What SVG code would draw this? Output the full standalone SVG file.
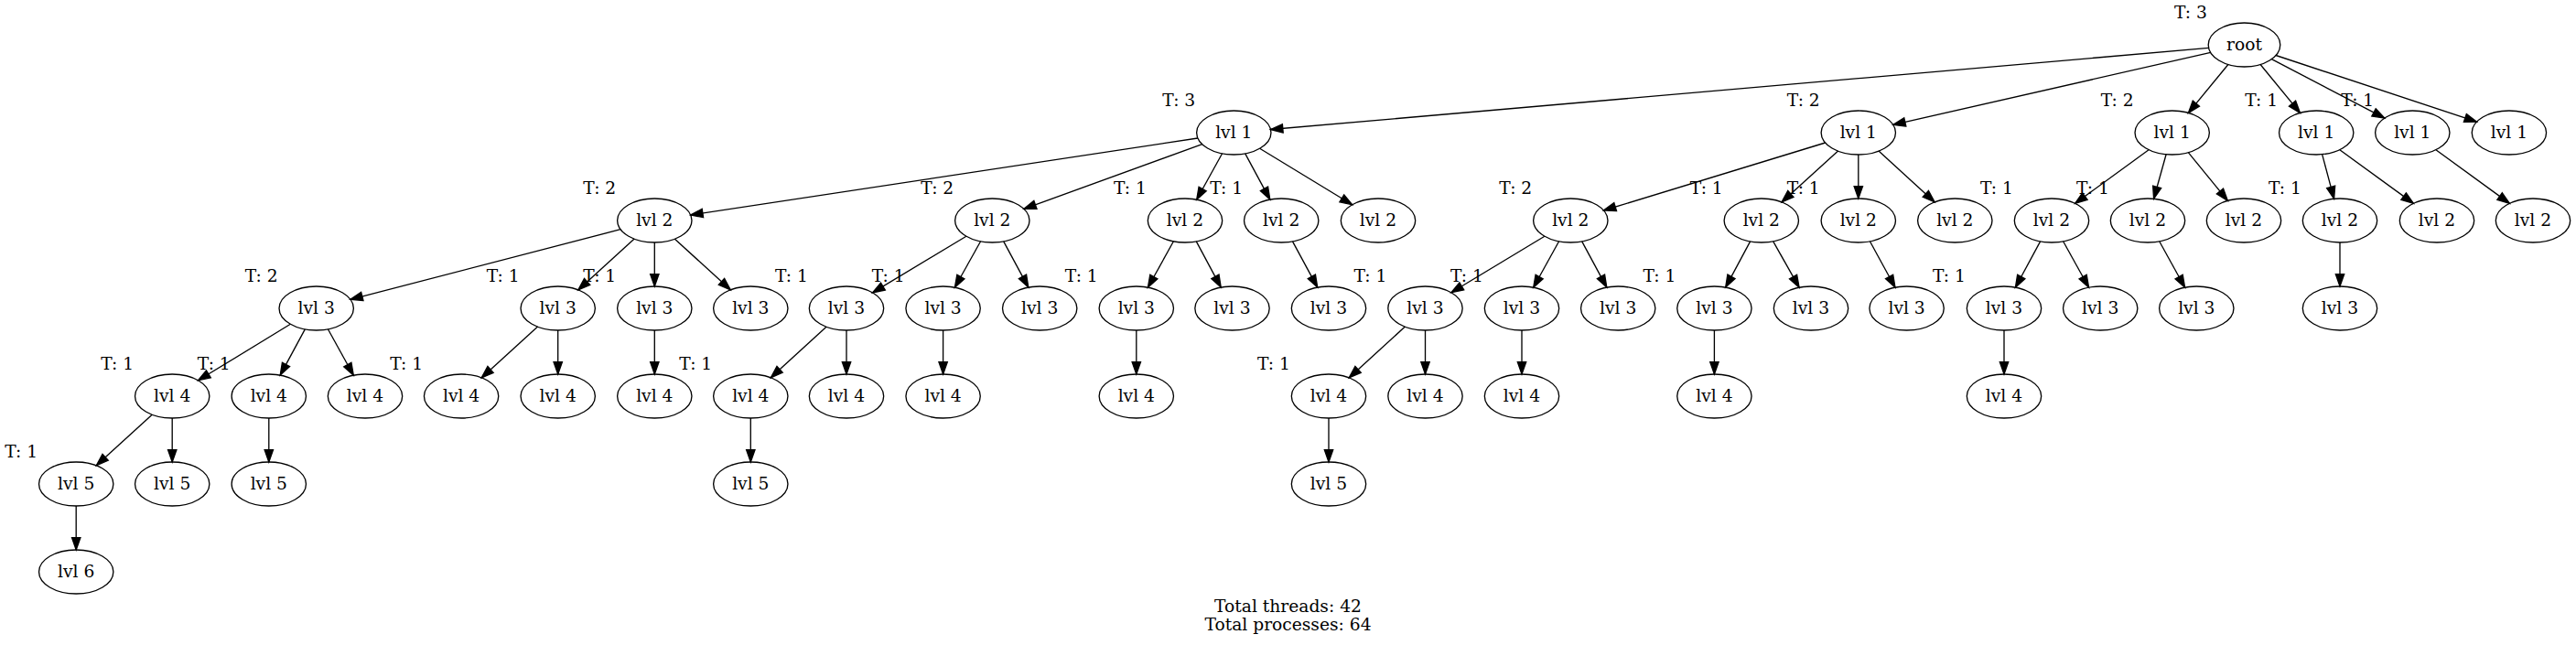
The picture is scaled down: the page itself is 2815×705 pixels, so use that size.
<svg xmlns="http://www.w3.org/2000/svg" width="2815" height="705" viewBox="0 0 2815 705">
<style>
text { font-family: "DejaVu Serif", "Liberation Serif", serif; font-size: 18.67px; fill: #000; text-anchor: middle; }
.node ellipse { fill: none; stroke: #000; stroke-width: 1.33; }
#edges line { stroke: #000; stroke-width: 1.33; fill: none; marker-end: url(#arr); }
</style>
<defs>
<marker id="arr" markerUnits="userSpaceOnUse" markerWidth="16" markerHeight="12" refX="13.33" refY="4.67" orient="auto" overflow="visible">
<path d="M0,0 L13.33,4.67 L0,9.33 Z" fill="#000" stroke="#000" stroke-width="1.33"/>
</marker>
</defs>
<rect x="0" y="0" width="2815" height="705" fill="#fff"/>
<g id="edges">
<line x1="2413.6" y1="52.4" x2="1388.5" y2="141.5"/>
<line x1="2415.7" y1="57.4" x2="2068.8" y2="136.4"/>
<line x1="2434.9" y1="70.5" x2="2391.4" y2="123.4"/>
<line x1="2470.1" y1="70.5" x2="2513.5" y2="123.4"/>
<line x1="2482.4" y1="64.6" x2="2605.8" y2="129.1"/>
<line x1="2487.0" y1="60.5" x2="2706.5" y2="133.2"/>
<line x1="1308.9" y1="151.0" x2="754.7" y2="235.0"/>
<line x1="1313.7" y1="157.6" x2="1118.9" y2="228.4"/>
<line x1="1335.6" y1="167.8" x2="1307.7" y2="218.2"/>
<line x1="1360.7" y1="167.9" x2="1387.8" y2="218.1"/>
<line x1="1376.6" y1="162.2" x2="1477.7" y2="223.8"/>
<line x1="1994.7" y1="156.0" x2="1752.4" y2="230.0"/>
<line x1="2008.6" y1="165.1" x2="1947.0" y2="220.9"/>
<line x1="2030.8" y1="169" x2="2030.8" y2="217"/>
<line x1="2053.0" y1="165.1" x2="2114.2" y2="220.9"/>
<line x1="2348.1" y1="163.7" x2="2267.6" y2="222.4"/>
<line x1="2367.1" y1="168.7" x2="2353.6" y2="217.3"/>
<line x1="2391.3" y1="166.6" x2="2434.4" y2="219.4"/>
<line x1="2537.6" y1="168.7" x2="2550.6" y2="217.3"/>
<line x1="2556.8" y1="163.7" x2="2637.4" y2="222.4"/>
<line x1="2661.9" y1="163.7" x2="2742.4" y2="222.4"/>
<line x1="678.1" y1="250.7" x2="382.9" y2="327.3"/>
<line x1="693.2" y1="261.1" x2="631.8" y2="316.9"/>
<line x1="715.3" y1="265" x2="715.3" y2="313"/>
<line x1="737.4" y1="261.2" x2="798.3" y2="316.8"/>
<line x1="1055.9" y1="258.2" x2="953.5" y2="319.9"/>
<line x1="1071.6" y1="263.8" x2="1043.4" y2="314.2"/>
<line x1="1096.7" y1="263.9" x2="1123.8" y2="314.1"/>
<line x1="1282.4" y1="263.8" x2="1254.4" y2="314.2"/>
<line x1="1307.3" y1="263.9" x2="1334.2" y2="314.1"/>
<line x1="1412.5" y1="263.9" x2="1439.7" y2="314.1"/>
<line x1="1687.9" y1="258.2" x2="1585.9" y2="319.8"/>
<line x1="1703.6" y1="263.8" x2="1675.7" y2="314.2"/>
<line x1="1728.7" y1="263.9" x2="1755.8" y2="314.1"/>
<line x1="1912.6" y1="263.9" x2="1885.7" y2="314.1"/>
<line x1="1937.7" y1="263.8" x2="1966.1" y2="314.2"/>
<line x1="2043.4" y1="263.8" x2="2071.0" y2="314.2"/>
<line x1="2229.6" y1="263.9" x2="2202.4" y2="314.2"/>
<line x1="2254.6" y1="263.8" x2="2282.6" y2="314.2"/>
<line x1="2359.7" y1="263.8" x2="2387.6" y2="314.2"/>
<line x1="2557" y1="265" x2="2557" y2="313"/>
<line x1="317.4" y1="354.2" x2="216.5" y2="415.8"/>
<line x1="333.3" y1="359.9" x2="306.2" y2="410.1"/>
<line x1="358.4" y1="359.8" x2="386.3" y2="410.2"/>
<line x1="587.6" y1="357.1" x2="526.2" y2="412.9"/>
<line x1="609.7" y1="361" x2="609.7" y2="409"/>
<line x1="715.3" y1="361" x2="715.3" y2="409"/>
<line x1="903.0" y1="357.2" x2="842.3" y2="412.8"/>
<line x1="925" y1="361" x2="925" y2="409"/>
<line x1="1030.6" y1="361" x2="1030.6" y2="409"/>
<line x1="1241.8" y1="361" x2="1241.8" y2="409"/>
<line x1="1535.4" y1="357.1" x2="1474.2" y2="412.9"/>
<line x1="1557.5" y1="361" x2="1557.5" y2="409"/>
<line x1="1663" y1="361" x2="1663" y2="409"/>
<line x1="1873.4" y1="361" x2="1873.4" y2="409"/>
<line x1="2190" y1="361" x2="2190" y2="409"/>
<line x1="166.2" y1="453.2" x2="105.3" y2="508.8"/>
<line x1="188.2" y1="457" x2="188.2" y2="505"/>
<line x1="293.8" y1="457" x2="293.8" y2="505"/>
<line x1="820.3" y1="457" x2="820.3" y2="505"/>
<line x1="1452" y1="457" x2="1452" y2="505"/>
<line x1="83.2" y1="553" x2="83.2" y2="601"/>
</g>
<g id="n_root" class="node"><ellipse cx="2452.5" cy="49" rx="39.3" ry="24"/><text x="2452.5" y="54.6">root</text><text x="2393.9" y="20.4">T: 3</text></g>
<g id="n_A" class="node"><ellipse cx="1348.3" cy="145" rx="40.67" ry="24"/><text x="1348.3" y="150.6">lvl 1</text><text x="1288.3" y="116.4">T: 3</text></g>
<g id="n_B" class="node"><ellipse cx="2030.8" cy="145" rx="40.67" ry="24"/><text x="2030.8" y="150.6">lvl 1</text><text x="1970.8" y="116.4">T: 2</text></g>
<g id="n_C" class="node"><ellipse cx="2373.7" cy="145" rx="40.67" ry="24"/><text x="2373.7" y="150.6">lvl 1</text><text x="2313.7" y="116.4">T: 2</text></g>
<g id="n_D" class="node"><ellipse cx="2531.2" cy="145" rx="40.67" ry="24"/><text x="2531.2" y="150.6">lvl 1</text><text x="2471.2" y="116.4">T: 1</text></g>
<g id="n_E" class="node"><ellipse cx="2636.3" cy="145" rx="40.67" ry="24"/><text x="2636.3" y="150.6">lvl 1</text><text x="2576.3" y="116.4">T: 1</text></g>
<g id="n_F" class="node"><ellipse cx="2741.9" cy="145" rx="40.67" ry="24"/><text x="2741.9" y="150.6">lvl 1</text></g>
<g id="n_A1" class="node"><ellipse cx="715.3" cy="241" rx="40.67" ry="24"/><text x="715.3" y="246.6">lvl 2</text><text x="655.3" y="212.4">T: 2</text></g>
<g id="n_A2" class="node"><ellipse cx="1084.3" cy="241" rx="40.67" ry="24"/><text x="1084.3" y="246.6">lvl 2</text><text x="1024.3" y="212.4">T: 2</text></g>
<g id="n_A3" class="node"><ellipse cx="1295" cy="241" rx="40.67" ry="24"/><text x="1295" y="246.6">lvl 2</text><text x="1235" y="212.4">T: 1</text></g>
<g id="n_A4" class="node"><ellipse cx="1400.2" cy="241" rx="40.67" ry="24"/><text x="1400.2" y="246.6">lvl 2</text><text x="1340.2" y="212.4">T: 1</text></g>
<g id="n_A5" class="node"><ellipse cx="1506" cy="241" rx="40.67" ry="24"/><text x="1506" y="246.6">lvl 2</text></g>
<g id="n_B1" class="node"><ellipse cx="1716.3" cy="241" rx="40.67" ry="24"/><text x="1716.3" y="246.6">lvl 2</text><text x="1656.3" y="212.4">T: 2</text></g>
<g id="n_B2" class="node"><ellipse cx="1924.8" cy="241" rx="40.67" ry="24"/><text x="1924.8" y="246.6">lvl 2</text><text x="1864.8" y="212.4">T: 1</text></g>
<g id="n_B3" class="node"><ellipse cx="2030.8" cy="241" rx="40.67" ry="24"/><text x="2030.8" y="246.6">lvl 2</text><text x="1970.8" y="212.4">T: 1</text></g>
<g id="n_B4" class="node"><ellipse cx="2136.3" cy="241" rx="40.67" ry="24"/><text x="2136.3" y="246.6">lvl 2</text></g>
<g id="n_C1" class="node"><ellipse cx="2242" cy="241" rx="40.67" ry="24"/><text x="2242" y="246.6">lvl 2</text><text x="2182" y="212.4">T: 1</text></g>
<g id="n_C2" class="node"><ellipse cx="2347" cy="241" rx="40.67" ry="24"/><text x="2347" y="246.6">lvl 2</text><text x="2287" y="212.4">T: 1</text></g>
<g id="n_C3" class="node"><ellipse cx="2452" cy="241" rx="40.67" ry="24"/><text x="2452" y="246.6">lvl 2</text></g>
<g id="n_D1" class="node"><ellipse cx="2557" cy="241" rx="40.67" ry="24"/><text x="2557" y="246.6">lvl 2</text><text x="2497" y="212.4">T: 1</text></g>
<g id="n_D2" class="node"><ellipse cx="2663" cy="241" rx="40.67" ry="24"/><text x="2663" y="246.6">lvl 2</text></g>
<g id="n_E1" class="node"><ellipse cx="2768" cy="241" rx="40.67" ry="24"/><text x="2768" y="246.6">lvl 2</text></g>
<g id="n_A1a" class="node"><ellipse cx="345.7" cy="337" rx="40.67" ry="24"/><text x="345.7" y="342.6">lvl 3</text><text x="285.7" y="308.4">T: 2</text></g>
<g id="n_A1b" class="node"><ellipse cx="609.7" cy="337" rx="40.67" ry="24"/><text x="609.7" y="342.6">lvl 3</text><text x="549.7" y="308.4">T: 1</text></g>
<g id="n_A1c" class="node"><ellipse cx="715.3" cy="337" rx="40.67" ry="24"/><text x="715.3" y="342.6">lvl 3</text><text x="655.3" y="308.4">T: 1</text></g>
<g id="n_A1d" class="node"><ellipse cx="820.3" cy="337" rx="40.67" ry="24"/><text x="820.3" y="342.6">lvl 3</text></g>
<g id="n_A2a" class="node"><ellipse cx="925" cy="337" rx="40.67" ry="24"/><text x="925" y="342.6">lvl 3</text><text x="865" y="308.4">T: 1</text></g>
<g id="n_A2b" class="node"><ellipse cx="1030.6" cy="337" rx="40.67" ry="24"/><text x="1030.6" y="342.6">lvl 3</text><text x="970.6" y="308.4">T: 1</text></g>
<g id="n_A2c" class="node"><ellipse cx="1136.2" cy="337" rx="40.67" ry="24"/><text x="1136.2" y="342.6">lvl 3</text></g>
<g id="n_A3a" class="node"><ellipse cx="1241.8" cy="337" rx="40.67" ry="24"/><text x="1241.8" y="342.6">lvl 3</text><text x="1181.8" y="308.4">T: 1</text></g>
<g id="n_A3b" class="node"><ellipse cx="1346.5" cy="337" rx="40.67" ry="24"/><text x="1346.5" y="342.6">lvl 3</text></g>
<g id="n_A4a" class="node"><ellipse cx="1452" cy="337" rx="40.67" ry="24"/><text x="1452" y="342.6">lvl 3</text></g>
<g id="n_B1a" class="node"><ellipse cx="1557.5" cy="337" rx="40.67" ry="24"/><text x="1557.5" y="342.6">lvl 3</text><text x="1497.5" y="308.4">T: 1</text></g>
<g id="n_B1b" class="node"><ellipse cx="1663" cy="337" rx="40.67" ry="24"/><text x="1663" y="342.6">lvl 3</text><text x="1603" y="308.4">T: 1</text></g>
<g id="n_B1c" class="node"><ellipse cx="1768.2" cy="337" rx="40.67" ry="24"/><text x="1768.2" y="342.6">lvl 3</text></g>
<g id="n_B2a" class="node"><ellipse cx="1873.4" cy="337" rx="40.67" ry="24"/><text x="1873.4" y="342.6">lvl 3</text><text x="1813.4" y="308.4">T: 1</text></g>
<g id="n_B2b" class="node"><ellipse cx="1979" cy="337" rx="40.67" ry="24"/><text x="1979" y="342.6">lvl 3</text></g>
<g id="n_B3a" class="node"><ellipse cx="2083.6" cy="337" rx="40.67" ry="24"/><text x="2083.6" y="342.6">lvl 3</text></g>
<g id="n_C1a" class="node"><ellipse cx="2190" cy="337" rx="40.67" ry="24"/><text x="2190" y="342.6">lvl 3</text><text x="2130" y="308.4">T: 1</text></g>
<g id="n_C1b" class="node"><ellipse cx="2295.2" cy="337" rx="40.67" ry="24"/><text x="2295.2" y="342.6">lvl 3</text></g>
<g id="n_C2a" class="node"><ellipse cx="2400.3" cy="337" rx="40.67" ry="24"/><text x="2400.3" y="342.6">lvl 3</text></g>
<g id="n_D1a" class="node"><ellipse cx="2557" cy="337" rx="40.67" ry="24"/><text x="2557" y="342.6">lvl 3</text></g>
<g id="n_A1a1" class="node"><ellipse cx="188.2" cy="433" rx="40.67" ry="24"/><text x="188.2" y="438.6">lvl 4</text><text x="128.2" y="404.4">T: 1</text></g>
<g id="n_A1a2" class="node"><ellipse cx="293.8" cy="433" rx="40.67" ry="24"/><text x="293.8" y="438.6">lvl 4</text><text x="233.8" y="404.4">T: 1</text></g>
<g id="n_A1a3" class="node"><ellipse cx="399" cy="433" rx="40.67" ry="24"/><text x="399" y="438.6">lvl 4</text></g>
<g id="n_A1b1" class="node"><ellipse cx="504.1" cy="433" rx="40.67" ry="24"/><text x="504.1" y="438.6">lvl 4</text><text x="444.1" y="404.4">T: 1</text></g>
<g id="n_A1b2" class="node"><ellipse cx="609.7" cy="433" rx="40.67" ry="24"/><text x="609.7" y="438.6">lvl 4</text></g>
<g id="n_A1c1" class="node"><ellipse cx="715.3" cy="433" rx="40.67" ry="24"/><text x="715.3" y="438.6">lvl 4</text></g>
<g id="n_A2a1" class="node"><ellipse cx="820.3" cy="433" rx="40.67" ry="24"/><text x="820.3" y="438.6">lvl 4</text><text x="760.3" y="404.4">T: 1</text></g>
<g id="n_A2a2" class="node"><ellipse cx="925" cy="433" rx="40.67" ry="24"/><text x="925" y="438.6">lvl 4</text></g>
<g id="n_A2b1" class="node"><ellipse cx="1030.6" cy="433" rx="40.67" ry="24"/><text x="1030.6" y="438.6">lvl 4</text></g>
<g id="n_A3a1" class="node"><ellipse cx="1241.8" cy="433" rx="40.67" ry="24"/><text x="1241.8" y="438.6">lvl 4</text></g>
<g id="n_B1a1" class="node"><ellipse cx="1452" cy="433" rx="40.67" ry="24"/><text x="1452" y="438.6">lvl 4</text><text x="1392" y="404.4">T: 1</text></g>
<g id="n_B1a2" class="node"><ellipse cx="1557.5" cy="433" rx="40.67" ry="24"/><text x="1557.5" y="438.6">lvl 4</text></g>
<g id="n_B1b1" class="node"><ellipse cx="1663" cy="433" rx="40.67" ry="24"/><text x="1663" y="438.6">lvl 4</text></g>
<g id="n_B2a1" class="node"><ellipse cx="1873.4" cy="433" rx="40.67" ry="24"/><text x="1873.4" y="438.6">lvl 4</text></g>
<g id="n_C1a1" class="node"><ellipse cx="2190" cy="433" rx="40.67" ry="24"/><text x="2190" y="438.6">lvl 4</text></g>
<g id="n_A1a1x" class="node"><ellipse cx="83.2" cy="529" rx="40.67" ry="24"/><text x="83.2" y="534.6">lvl 5</text><text x="23.2" y="500.4">T: 1</text></g>
<g id="n_A1a1y" class="node"><ellipse cx="188.2" cy="529" rx="40.67" ry="24"/><text x="188.2" y="534.6">lvl 5</text></g>
<g id="n_A1a2x" class="node"><ellipse cx="293.8" cy="529" rx="40.67" ry="24"/><text x="293.8" y="534.6">lvl 5</text></g>
<g id="n_A2a1x" class="node"><ellipse cx="820.3" cy="529" rx="40.67" ry="24"/><text x="820.3" y="534.6">lvl 5</text></g>
<g id="n_B1a1x" class="node"><ellipse cx="1452" cy="529" rx="40.67" ry="24"/><text x="1452" y="534.6">lvl 5</text></g>
<g id="n_A1a1xa" class="node"><ellipse cx="83.2" cy="625" rx="40.67" ry="24"/><text x="83.2" y="630.6">lvl 6</text></g>
<g id="graph_label"><text x="1407.5" y="669.3">Total threads: 42</text><text x="1407.5" y="689.3">Total processes: 64</text></g>
</svg>
